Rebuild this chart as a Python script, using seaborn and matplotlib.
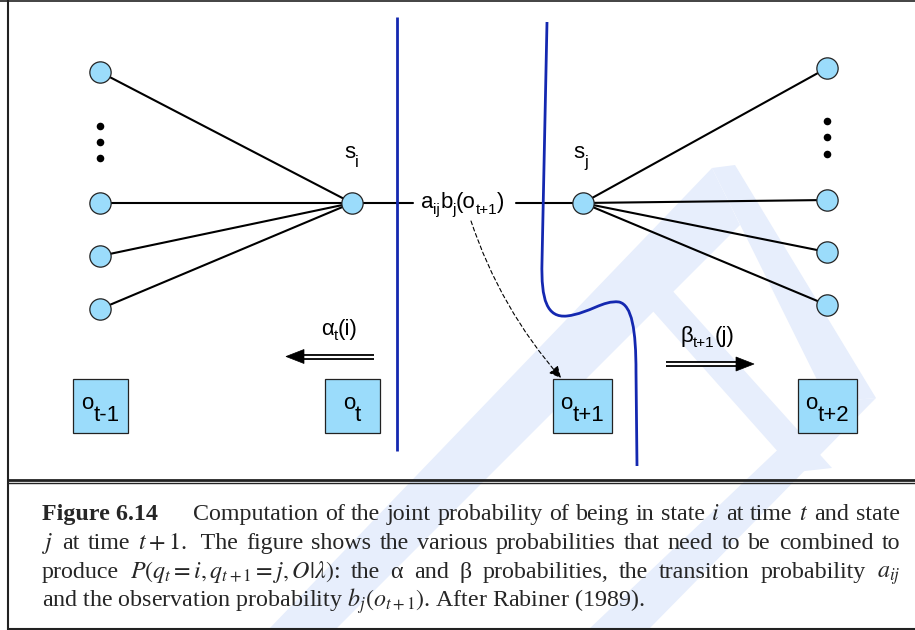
import matplotlib
matplotlib.use("Agg")
import matplotlib.pyplot as plt
import seaborn as sns
import pandas as pd
from matplotlib.patches import Rectangle, Polygon, FancyArrowPatch, PathPatch
from matplotlib.path import Path

# ---------------- data (pixel layout of the diagram) ----------------
left_nodes_y = [72, 203, 256, 309]
right_nodes_y = [68, 200, 252, 305]
left_col_x = 100
right_col_x = 827
left_dots_y = [126, 142, 158]
right_dots_y = [121, 137, 154]
state_x = [352, 583]
state_y = [203, 203]
state_names = ["i", "j"]
obs_subscripts = ["t-1", "t", "t+1", "t+2"]
obs_centers_x = [100.5, 352, 582.5, 827.5]

caption_head = "Figure 6.14"
caption_line1 = ["Computation", "of", "the", "joint", "probability", "of", "being", "in",
                 "state", "$i$", "at", "time", "$t$", "and", "state"]
caption_line2 = ["$j$", "at", "time", "$t+1$.", " The", "figure", "shows", "the", "various",
                 "probabilities", "that", "need", "to", "be", "combined", "to"]
caption_line3 = ["produce", r"$P(q_t = i, q_{t+1} = j, O|\lambda)$:", "the", "α", "and", "β",
                 "probabilities,", "the", "transition", "probability", r"$a_{ij}$"]
caption_line4 = r"and the observation probability $b_j(o_{t+1})$. After Rabiner (1989)."

# ---------------- style ----------------
sns.set_theme(style="white")
plt.rcParams["font.family"] = ["Liberation Sans", "DejaVu Sans"]
plt.rcParams["mathtext.fontset"] = "stix"

NODE_FILL = "#9bdcfb"
EDGE_DARK = "#222222"
BLUE = "#1428b0"
WM = "#e7eefc"
SERIF = ["Liberation Serif", "DejaVu Serif"]
SANS = ["Liberation Sans", "DejaVu Sans"]

fig = plt.figure(figsize=(9.15, 6.3), dpi=100)
ax = fig.add_axes([0, 0, 1, 1])
ax.set_xlim(0, 915)
ax.set_ylim(630, 0)
ax.axis("off")
fig.canvas.draw()
R = fig.canvas.get_renderer()

# ---------------- watermark (faint logo) ----------------
wm_shapes = [
    [(712, 168), (268, 630), (335, 630), (740, 225)],
    [(712, 168), (735, 165), (876, 398), (828, 402)],
    [(828, 402), (876, 398), (648, 630), (588, 630)],
    [(435, 468), (643, 258), (832, 468), (796, 472), (643, 300), (475, 472)],
]
for pts in wm_shapes:
    ax.add_patch(Polygon(pts, closed=True, facecolor=WM, edgecolor="none", zorder=0))

# ---------------- frame ----------------
ax.plot([0, 915], [0.8, 0.8], color=EDGE_DARK, lw=1.2, zorder=1)
ax.plot([8, 8], [0, 630], color=EDGE_DARK, lw=1.5, zorder=1)
ax.plot([8, 915], [628.8, 628.8], color=EDGE_DARK, lw=1.5, zorder=1)
ax.plot([8, 915], [479.5, 479.5], color=EDGE_DARK, lw=2.0, zorder=1)
ax.plot([8, 915], [483.2, 483.2], color=EDGE_DARK, lw=1.0, zorder=1)

# ---------------- edges ----------------
for y in left_nodes_y:
    ax.plot([left_col_x, state_x[0]], [y, state_y[0]], color="black", lw=1.5, zorder=3)
for y in right_nodes_y:
    ax.plot([state_x[1], right_col_x], [state_y[1], y], color="black", lw=1.5, zorder=3)
ax.plot([state_x[0], 413], [state_y[0], state_y[0]], color="black", lw=1.5, zorder=3)
ax.plot([516, state_x[1]], [state_y[1], state_y[1]], color="black", lw=1.5, zorder=3)

# ---------------- blue separators ----------------
ax.plot([397, 397], [17, 451], color=BLUE, lw=2.0, zorder=4, solid_capstyle="butt")
curve = Path(
    [(547, 22), (542, 262),
     (541, 300), (547, 318), (567, 316),
     (590, 313), (603, 300), (619, 302),
     (632, 305), (636, 330), (636, 372),
     (637, 466)],
    [Path.MOVETO, Path.LINETO,
     Path.CURVE4, Path.CURVE4, Path.CURVE4,
     Path.CURVE4, Path.CURVE4, Path.CURVE4,
     Path.CURVE4, Path.CURVE4, Path.CURVE4,
     Path.LINETO])
ax.add_patch(PathPatch(curve, facecolor="none", edgecolor=BLUE, lw=2.0, zorder=4))

# ---------------- nodes ----------------
nodes = pd.DataFrame({
    "x": [left_col_x] * len(left_nodes_y) + [right_col_x] * len(right_nodes_y) + state_x,
    "y": left_nodes_y + right_nodes_y + state_y,
})
sns.scatterplot(data=nodes, x="x", y="y", s=235, color=NODE_FILL, edgecolor=EDGE_DARK,
                linewidth=0.9, ax=ax, zorder=5, legend=False)
dots = pd.DataFrame({
    "x": [left_col_x] * len(left_dots_y) + [right_col_x] * len(right_dots_y),
    "y": left_dots_y + right_dots_y,
})
sns.scatterplot(data=dots, x="x", y="y", s=30, color="black", edgecolor="black",
                linewidth=0, ax=ax, zorder=5, legend=False)
ax.set_xlim(0, 915)
ax.set_ylim(630, 0)
ax.axis("off")

# ---------------- observation boxes ----------------
box_w = [55, 55, 59, 59]
box_top, box_h = 379, 54
for cx, w in zip(obs_centers_x, box_w):
    ax.add_patch(Rectangle((cx - w / 2, box_top), w, box_h, facecolor=NODE_FILL,
                           edgecolor=EDGE_DARK, lw=0.9, zorder=5))


def chain(parts, x, y, center=False, family=SANS, z=6):
    objs, widths = [], []
    for s, fs, dy in parts:
        t = ax.text(0, y + dy, s, fontsize=fs, family=family, va="baseline", ha="left",
                    zorder=z, color="black")
        widths.append(t.get_window_extent(renderer=R).width)
        objs.append(t)
    cx = x - sum(widths) / 2 if center else x
    for t, w in zip(objs, widths):
        t.set_x(cx)
        cx += w


for cx, sub in zip(obs_centers_x, obs_subscripts):
    chain([("o", 16, 0), (sub, 16, 12)], cx, 409, center=True)

chain([("s", 16, 0), (state_names[0], 12, 9)], 344, 158)
chain([("s", 16, 0), (state_names[1], 12, 9)], 573, 158)
chain([("a", 16, 0), ("ij", 11, 6), ("b", 16, 0), ("j", 11, 6), ("(o", 16, 0),
       ("t+1", 11, 6), (")", 16, 0)], 421, 208)
chain([("α", 16, 0), ("t", 11, 5), ("(i)", 16, 0)], 321, 335)
chain([("β", 16, 0), ("t+1", 11, 5), ("(j)", 16, 0)], 680, 342)


# ---------------- arrows ----------------
def double_arrow(x0, x1, y, head_len=18, head_half=7):
    d = 1 if x1 > x0 else -1
    xb = x1 - d * head_len
    ax.plot([x0, xb + d * 2], [y, y], color="black", lw=4.2, solid_capstyle="butt", zorder=5)
    ax.plot([x0 - d * 0.5, xb + d * 2], [y, y], color="white", lw=1.6,
            solid_capstyle="butt", zorder=6)
    ax.add_patch(Polygon([(x1, y), (xb, y - head_half), (xb, y + head_half)], closed=True,
                         facecolor="black", edgecolor="black", lw=0.5, zorder=6))


double_arrow(374, 286, 356.5)
double_arrow(666, 754, 364)

dash = FancyArrowPatch((471, 221), (561, 378), connectionstyle="arc3,rad=0.1",
                       arrowstyle="-|>,head_length=7,head_width=3.5",
                       linestyle=(0, (3.5, 2.5)), lw=0.8, color="black", zorder=5,
                       shrinkA=0, shrinkB=0)
ax.add_patch(dash)

# ---------------- caption ----------------
CFS = 17.3
LEFT, RIGHT = 42, 900


def justify(tokens, x0, x1, y):
    objs, widths = [], []
    for tok in tokens:
        t = ax.text(0, y, tok, fontsize=CFS, family=SERIF, va="baseline", ha="left", zorder=6)
        widths.append(t.get_window_extent(renderer=R).width)
        objs.append(t)
    gap = (x1 - x0 - sum(widths)) / (len(objs) - 1)
    cx = x0
    for t, w in zip(objs, widths):
        t.set_x(cx)
        cx += w + gap


ax.text(LEFT, 520, caption_head, fontsize=CFS, family=SERIF, fontweight="bold",
        va="baseline", ha="left", zorder=6)
justify(caption_line1, 193, RIGHT, 520)
justify(caption_line2, LEFT, RIGHT, 549)
justify(caption_line3, LEFT, RIGHT, 578)
ax.text(LEFT, 607, caption_line4, fontsize=CFS, family=SERIF, va="baseline", ha="left",
        zorder=6)

fig.savefig("out.png", dpi=100, facecolor="white")
